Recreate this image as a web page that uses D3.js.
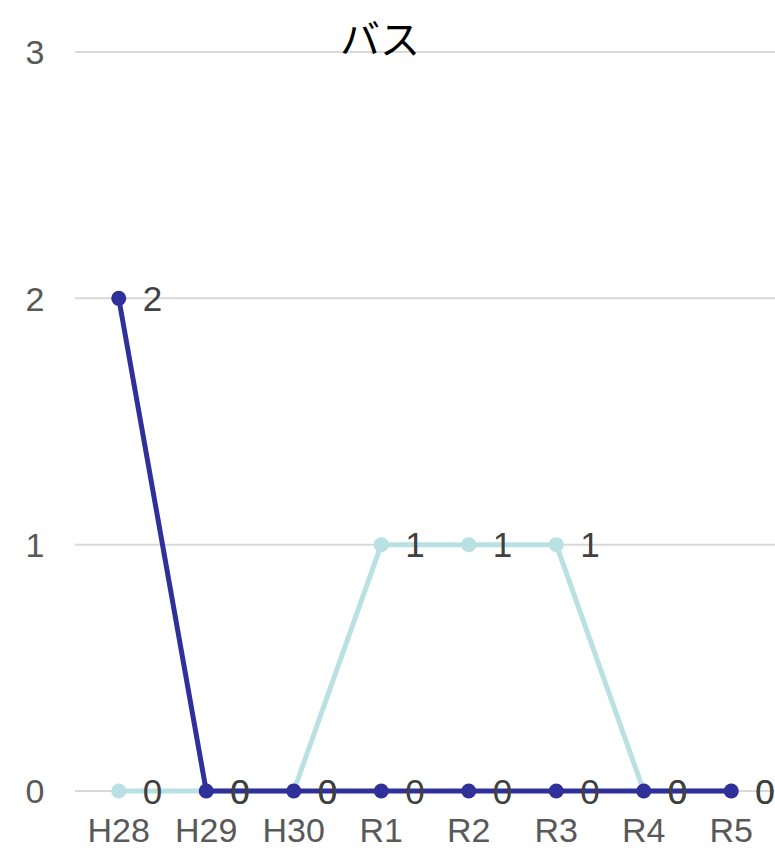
<!DOCTYPE html>
<html><head><meta charset="utf-8">
<script src="https://cdn.jsdelivr.net/npm/d3@7"></script>
<style>body{margin:0;background:#fff}svg{display:block}</style>
</head><body>
<script>
const categories = ["H28","H29","H30","R1","R2","R3","R4","R5"];
const seriesLight = [0,0,0,1,1,1,0,0];
const seriesDark = [2,0,0,0,0,0,0,0];
const yTicks = [0,1,2,3];
const title = "バス";

const W = 775, H = 851;
const FONT = "'Liberation Sans', Arial, sans-serif";
const svg = d3.select("body").append("svg").attr("width", W).attr("height", H);
const x = d3.scaleBand().domain(categories).range([75, 775]);
const y = d3.scaleLinear().domain([0, 3]).range([791, 52]);
const cx = d => x(d) + x.bandwidth() / 2;

svg.append("g").selectAll("line").data(yTicks).join("line")
  .attr("x1", 75).attr("x2", 775)
  .attr("y1", d => y(d)).attr("y2", d => y(d))
  .attr("stroke", "#d9d9d9").attr("stroke-width", 2);

svg.append("g").selectAll("text").data(yTicks).join("text")
  .attr("x", 35).attr("y", d => y(d)).attr("dy", "0.36em")
  .attr("text-anchor", "middle").attr("font-family", FONT)
  .attr("font-size", 34).attr("fill", "#595959").text(d => d);

svg.append("g").selectAll("text").data(categories).join("text")
  .attr("x", d => cx(d)).attr("y", 830).attr("dy", "0.36em")
  .attr("text-anchor", "middle").attr("font-family", FONT)
  .attr("font-size", 34).attr("fill", "#595959").text(d => d);

svg.append("text").attr("x", 380).attr("y", 40).attr("dy", "0.36em")
  .attr("text-anchor", "middle").attr("font-family", "'Noto Sans CJK JP', sans-serif")
  .attr("font-size", 40).attr("fill", "#000").text(title);

function drawSeries(vals, color) {
  const data = categories.map((c, i) => ({c, v: vals[i]}));
  const line = d3.line().x(d => cx(d.c)).y(d => y(d.v));
  const g = svg.append("g");
  g.append("path").datum(data).attr("d", line).attr("fill", "none")
    .attr("stroke", color).attr("stroke-width", 5).attr("stroke-linejoin", "round");
  g.selectAll("circle").data(data).join("circle")
    .attr("cx", d => cx(d.c)).attr("cy", d => y(d.v)).attr("r", 7.5).attr("fill", color);
  return data;
}
const dl = drawSeries(seriesLight, "#b9e0e3");
const dd = drawSeries(seriesDark, "#30309a");

function labels(data) {
  svg.append("g").selectAll("text").data(data).join("text")
    .attr("x", d => cx(d.c) + 24).attr("y", d => y(d.v)).attr("dy", "0.36em")
    .attr("font-family", FONT).attr("font-size", 35)
    .attr("fill", "#404040").text(d => d.v);
}
labels(dl);
labels(dd);
</script>
</body></html>
